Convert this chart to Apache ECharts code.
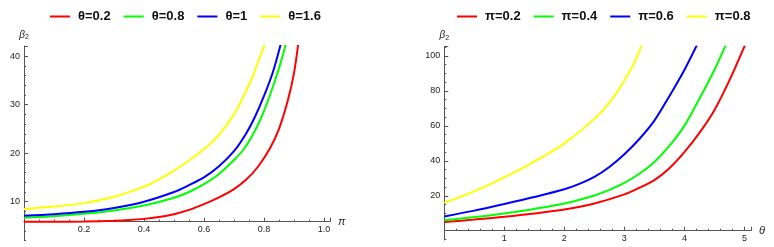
<!DOCTYPE html>
<html><head><meta charset="utf-8">
<script src="https://cdn.jsdelivr.net/npm/echarts@6/dist/echarts.min.js"></script>
<style>html,body{margin:0;padding:0;background:#fff}#c{width:774px;height:247px}</style>
</head><body><div id="c"></div>
<script>
// ---- Left panel: beta2 vs pi, for several theta ----
const leftNames = ['θ=0.2', 'θ=0.8', 'θ=1', 'θ=1.6'];
const piRed    = [0, 0.1, 0.2, 0.3, 0.35, 0.4, 0.45, 0.5, 0.55, 0.6, 0.65, 0.7, 0.74, 0.78, 0.82, 0.85, 0.88, 0.9, 0.915];
const betaRed  = [5.86, 5.87, 5.9, 6.05, 6.2, 6.45, 6.85, 7.4, 8.3, 9.5, 10.9, 12.6, 14.5, 17.2, 21, 25, 31, 36.5, 43];
const piGreen   = [0, 0.1, 0.2, 0.3, 0.4, 0.5, 0.55, 0.6, 0.65, 0.7, 0.73, 0.76, 0.79, 0.82, 0.85, 0.875];
const betaGreen = [6.7, 7.0, 7.5, 8.2, 9.2, 10.8, 12.0, 13.6, 15.7, 18.6, 20.6, 23.5, 27.2, 32, 37.5, 43];
const piBlue   = [0, 0.1, 0.2, 0.3, 0.4, 0.5, 0.55, 0.6, 0.65, 0.7, 0.74, 0.77, 0.8, 0.83, 0.858];
const betaBlue = [7.1, 7.4, 7.9, 8.7, 10.0, 12.0, 13.4, 15.0, 17.3, 20.4, 24.0, 27.5, 31.8, 36.8, 43];
const piYellow   = [0, 0.1, 0.2, 0.3, 0.4, 0.45, 0.5, 0.55, 0.6, 0.65, 0.7, 0.73, 0.76, 0.78, 0.806];
const betaYellow = [8.5, 9.0, 9.7, 11.0, 13.1, 14.6, 16.4, 18.5, 20.8, 23.8, 28.0, 31.5, 35.5, 38.8, 43];

// ---- Right panel: beta2 vs theta, for several pi ----
const rightNames = ['π=0.2', 'π=0.4', 'π=0.6', 'π=0.8'];
const thRed    = [0, 0.5, 1, 1.5, 2, 2.5, 3, 3.25, 3.5, 3.75, 4, 4.25, 4.5, 4.75, 5.02];
const bRed     = [5.0, 6.4, 8.0, 9.9, 12.2, 15.6, 20.8, 24.6, 29, 35.8, 45, 56, 69, 86, 107];
const thGreen  = [0, 0.5, 1, 1.5, 2, 2.5, 2.75, 3, 3.25, 3.5, 3.75, 4, 4.25, 4.5, 4.7];
const bGreen   = [6.0, 7.8, 9.9, 12.5, 15.6, 20.2, 23.4, 27.4, 32.6, 39.3, 48.5, 60, 75.5, 92, 107];
const thBlue   = [0, 0.5, 1, 1.5, 2, 2.25, 2.5, 2.75, 3, 3.25, 3.5, 3.75, 4, 4.22];
const bBlue    = [8.2, 11.5, 15.3, 19.3, 23.7, 26.8, 30.8, 36.5, 43.8, 52.5, 63, 77, 92, 107];
const thYellow = [0, 0.5, 1, 1.5, 2, 2.5, 2.8, 3, 3.15, 3.3];
const bYellow  = [16, 22.5, 30.5, 39.5, 50, 64, 75.5, 86, 95, 107];

// tick-label values
const leftYTicks = [10, 20, 30, 40];
const rightYTicks = [20, 40, 60, 80, 100];
const leftXTicks = [0.2, 0.4, 0.6, 0.8, 1.0];
const rightXTicks = [1, 2, 3, 4, 5];

const colors = ['#ff0000', '#00ff00', '#0000ff', '#ffff00'];
const FONT = 'Liberation Sans, Arial, sans-serif';

function pairs(xs, ys) { return xs.map((x, i) => [x, ys[i]]); }
const leftData = [pairs(piRed, betaRed), pairs(piGreen, betaGreen), pairs(piBlue, betaBlue), pairs(piYellow, betaYellow)];
const rightData = [pairs(thRed, bRed), pairs(thGreen, bGreen), pairs(thBlue, bBlue), pairs(thYellow, bYellow)];

const AX = '#555';
const axisLine = { show: true, onZero: false, lineStyle: { color: AX, width: 1 } };
const noLine = { show: false };
const labelStyle = { color: '#222', fontSize: 9, fontFamily: FONT };
const tick = { show: true, inside: true, length: 4, lineStyle: { color: AX } };
const minor = (n) => ({ show: true, splitNumber: n, length: 2, lineStyle: { color: AX } });
const inList = (list) => (v) => list.some(t => Math.abs(t - v) < 1e-6);

const beta2Name = '{b|β}{s|2}';
const nameRich = { b: { fontSize: 10, fontStyle: 'italic', fontFamily: FONT, color: '#222' }, s: { fontSize: 7, fontFamily: FONT, color: '#222', padding: [5, 0, 0, 0] } };

const series = [];
leftData.forEach((d, i) => series.push({
  name: leftNames[i], type: 'line', xAxisIndex: 0, yAxisIndex: 0, data: d,
  showSymbol: false, smooth: 0.3, clip: true,
  lineStyle: { color: colors[i], width: 2 }, itemStyle: { color: colors[i] }
}));
rightData.forEach((d, i) => series.push({
  name: rightNames[i], type: 'line', xAxisIndex: 1, yAxisIndex: 1, data: d,
  showSymbol: false, smooth: 0.3, clip: true,
  lineStyle: { color: colors[i], width: 2 }, itemStyle: { color: colors[i] }
}));

const legendCommon = {
  top: 5, orient: 'horizontal', icon: 'rect', itemWidth: 20, itemHeight: 2, itemGap: 13,
  textStyle: { fontSize: 13, fontWeight: 'bold', fontFamily: FONT, color: '#111', padding: [0, 0, 0, 3] },
  selectedMode: false
};

const isL = inList(leftYTicks), isR = inList(rightYTicks), isLX = inList(leftXTicks), isRX = inList(rightXTicks);
const G = { containLabel: false, outerBoundsMode: 'none' };

const option = {
  animation: false,
  backgroundColor: '#fff',
  legend: [
    Object.assign({}, legendCommon, { left: 45, data: leftNames }),
    Object.assign({}, legendCommon, { left: 452, data: rightNames })
  ],
  grid: [
    // data grids
    Object.assign({ left: 24, top: 46, width: 306, height: 194.7 }, G),
    Object.assign({ left: 444.3, top: 46.7, width: 306.7, height: 193.3 }, G),
    // tick grids (same scale, extended downward so their min is a multiple of the interval)
    Object.assign({ left: 24, top: 46, width: 306, height: 204.2 }, G),
    Object.assign({ left: 444.3, top: 46.7, width: 306.7, height: 219.0 }, G)
  ],
  xAxis: [
    { gridIndex: 0, type: 'value', min: 0, max: 1.02, interval: 0.2, position: 'bottom', offset: -19,
      axisLine: axisLine, axisTick: tick, minorTick: minor(4), splitLine: { show: false },
      axisLabel: Object.assign({ margin: 3, showMinLabel: false, showMaxLabel: false,
        formatter: v => isLX(v) ? v.toFixed(1) : '' }, labelStyle),
      name: 'π', nameLocation: 'end', nameGap: 8,
      nameTextStyle: { fontSize: 11, fontStyle: 'italic', fontFamily: FONT, color: '#222' } },
    { gridIndex: 1, type: 'value', min: 0, max: 5.11, interval: 1, position: 'bottom', offset: -9.3,
      axisLine: axisLine, axisTick: tick, minorTick: minor(5), splitLine: { show: false },
      axisLabel: Object.assign({ margin: 3, showMinLabel: false, showMaxLabel: false,
        formatter: v => isRX(v) ? String(Math.round(v)) : '' }, labelStyle),
      name: 'θ', nameLocation: 'end', nameGap: 8,
      nameTextStyle: { fontSize: 11, fontStyle: 'italic', fontFamily: FONT, color: '#222' } },
    { gridIndex: 2, type: 'value', min: 0, max: 1.02, show: false },
    { gridIndex: 3, type: 'value', min: 0, max: 5.11, show: false }
  ],
  yAxis: [
    // data axes: line only
    { gridIndex: 0, type: 'value', min: 1.95, max: 42.1,
      axisLine: axisLine, axisTick: { show: false }, axisLabel: { show: false }, splitLine: { show: false },
      name: beta2Name, nameLocation: 'end', nameGap: 5, nameTextStyle: { rich: nameRich } },
    { gridIndex: 1, type: 'value', min: -5.3, max: 105.3,
      axisLine: axisLine, axisTick: { show: false }, axisLabel: { show: false }, splitLine: { show: false },
      name: beta2Name, nameLocation: 'end', nameGap: 5, nameTextStyle: { rich: nameRich } },
    // tick axes: ticks and labels
    { gridIndex: 2, type: 'value', min: 0, max: 42.1, interval: 10,
      axisLine: noLine, axisTick: tick, minorTick: minor(5), splitLine: { show: false },
      axisLabel: Object.assign({ margin: 4, showMinLabel: false, showMaxLabel: false,
        formatter: v => isL(v) ? String(v) : '' }, labelStyle) },
    { gridIndex: 3, type: 'value', min: -20, max: 105.3, interval: 20,
      axisLine: noLine, axisTick: tick, minorTick: minor(4), splitLine: { show: false },
      axisLabel: Object.assign({ margin: 4, showMinLabel: false, showMaxLabel: false,
        formatter: v => isR(v) ? String(v) : '' }, labelStyle) }
  ],
  series: series
};

const chart = echarts.init(document.getElementById('c'), null, { renderer: 'canvas' });
chart.setOption(option);
</script></body></html>
